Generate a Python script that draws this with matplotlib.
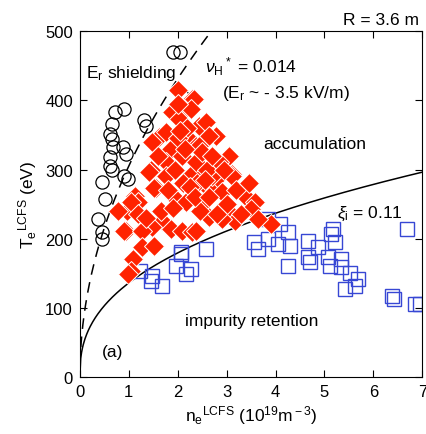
import matplotlib
matplotlib.use('Agg')
import matplotlib.pyplot as plt
import numpy as np

plt.rcParams['font.family'] = ['Liberation Sans', 'DejaVu Sans']
plt.rcParams['mathtext.fontset'] = 'custom'
plt.rcParams['mathtext.rm'] = 'Liberation Sans'
plt.rcParams['mathtext.it'] = 'Liberation Sans:italic'

# E_r shielding (open circles)
circ_n = [1.9, 2.05, 2.09, 0.71, 0.91, 0.65, 1.32, 1.35, 0.61, 0.65, 0.68, 0.89,
          0.95, 0.61, 0.62, 0.65, 0.91, 0.98, 0.45, 0.51, 0.37, 0.45, 0.46]
circ_T = [470, 470, 406, 383, 387, 366, 371, 363, 351, 344, 332, 332,
          322, 318, 305, 300, 290, 286, 282, 257, 228, 209, 200]

# accumulation (red diamonds)
dia_n = [2.0, 2.29, 2.19, 1.89, 2.03, 1.62, 1.48, 1.76, 2.43, 2.23, 1.87, 2.09,
         2.37, 1.76, 1.46, 1.76, 2.43, 1.56, 0.97, 0.95, 1.26, 1.12, 1.18, 1.52,
         1.42, 1.05, 0.77, 1.18, 1.93, 2.17, 1.68, 1.48, 0.91, 1.28, 1.87, 2.09,
         2.29, 1.28, 1.52, 1.08, 1.05, 0.98, 3.10, 2.78, 2.64, 2.90, 3.39, 3.59,
         3.49, 2.64, 3.04, 3.18, 2.90, 2.37, 3.91, 2.29, 2.33, 2.27, 2.58, 2.78,
         3.04, 2.64, 2.43, 2.84, 3.10, 2.70, 2.37, 2.5, 2.6, 2.2, 2.0, 1.95,
         2.1, 2.4, 2.55, 2.7, 2.95, 3.2, 3.3, 2.15, 1.65, 1.35, 3.65, 3.0,
         2.45, 2.8, 2.0, 1.8, 2.25, 2.55, 3.45, 2.05, 1.6, 2.35, 2.65, 1.9]
dia_T = [415, 402, 390, 383, 373, 347, 340, 354, 363, 344, 330, 319,
         334, 311, 300, 291, 305, 274, 240, 211, 211, 262, 253, 274,
         296, 253, 240, 236, 260, 253, 225, 217, 211, 211, 214, 211,
         209, 188, 190, 170, 153, 149, 293, 286, 272, 267, 260, 253,
         243, 231, 238, 225, 228, 211, 221, 293, 402, 387, 368, 348,
         319, 348, 334, 311, 290, 290, 311, 325, 300, 360, 345, 300,
         280, 280, 255, 320, 300, 270, 235, 330, 240, 230, 228, 250,
         240, 235, 395, 270, 275, 285, 280, 355, 320, 260, 260, 245]

# impurity retention (open squares)
sq_n = [2.07, 1.97, 2.27, 1.48, 1.22, 1.46, 1.68, 2.17, 2.58, 2.07, 3.85, 4.10,
        4.26, 3.55, 3.85, 3.65, 4.06, 4.30, 4.26, 5.17, 5.13, 5.21, 4.67, 4.87,
        4.67, 4.71, 5.07, 5.11, 5.33, 5.33, 5.52, 5.68, 5.42, 5.62, 6.69, 6.39,
        6.43, 6.86, 6.96]
sq_T = [178, 160, 156, 146, 153, 139, 132, 149, 185, 181, 228, 221,
        209, 195, 199, 185, 192, 190, 160, 214, 207, 195, 197, 188,
        173, 166, 173, 160, 170, 159, 151, 142, 127, 132, 214, 117,
        113, 105, 105]

fig = plt.figure(figsize=(4.27, 4.35), dpi=100)
ax = fig.add_axes([0.187, 0.131, 0.802, 0.795])

# boundaries
n1 = np.linspace(0.02, 2.75, 200)
ax.plot(n1, 305 * np.sqrt(n1), color='black', lw=1.1, ls=(0, (7, 5)), zorder=1)
n2 = np.linspace(0, 7, 400)
ax.plot(n2, 136 * n2 ** 0.4, color='black', lw=1.1, zorder=1)

ax.plot(circ_n, circ_T, 'o', ms=9.5, mfc='none', mec='black', mew=0.9, zorder=2)
ax.plot(sq_n, sq_T, 's', ms=10, mfc='none', mec='#3747d4', mew=1.0, zorder=2)
ax.plot(dia_n, dia_T, 'D', ms=10.5, mfc='#ff2200', mec='white', mew=0.7, zorder=3)

ax.set_xlim(0, 7)
ax.set_ylim(0, 500)
ax.set_xticks(range(0, 8))
ax.set_yticks(range(0, 501, 100))
ax.tick_params(direction='in', top=True, right=True, labelsize=12, length=5, pad=5)

ax.set_xlabel(r'n$_{\rm e}$$^{\rm LCFS}$ (10$^{\rm 19}$m$^{\rm -3}$)', fontsize=12.5, labelpad=3)
ax.set_ylabel(r'T$_{\rm e}$$^{\rm LCFS}$ (eV)', fontsize=12.5, labelpad=4)

ax.text(0.99, 1.012, 'R = 3.6 m', transform=ax.transAxes, ha='right', va='bottom', fontsize=12.5)
ax.text(0.12, 440, r'E$_{\rm r}$ shielding', fontsize=12.5, va='center')
ax.text(2.55, 450, r'$\nu_{\rm H}$$^{\rm *}$ = 0.014', fontsize=12.5, va='center')
ax.text(2.9, 412, r'(E$_{\rm r}$ ~ - 3.5 kV/m)', fontsize=12.5, va='center')
ax.text(3.75, 338, 'accumulation', fontsize=12.5, va='center')
ax.text(5.25, 237, r'$\xi_{\rm i}$ = 0.11', fontsize=12.5, va='center')
ax.text(2.15, 82, 'impurity retention', fontsize=12.5, va='center')
ax.text(0.45, 37, '(a)', fontsize=12.5, va='center')

fig.savefig('out.png', dpi=100)
